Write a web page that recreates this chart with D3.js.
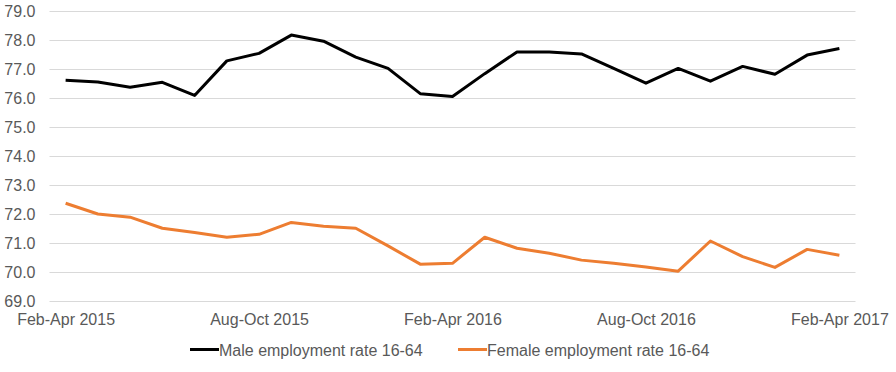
<!DOCTYPE html>
<html><head><meta charset="utf-8">
<script src="https://cdn.jsdelivr.net/npm/d3@7"></script>
<style>body{margin:0;background:#fff}svg{display:block}text{font-family:"Liberation Sans",Arial,sans-serif}</style>
</head><body><svg id="c" width="896" height="372"></svg>
<script>
const categories = ["Feb-Apr 2015","Mar-May 2015","Apr-Jun 2015","May-Jul 2015","Jun-Aug 2015","Jul-Sep 2015","Aug-Oct 2015","Sep-Nov 2015","Oct-Dec 2015","Nov-Jan 2016","Dec-Feb 2016","Jan-Mar 2016","Feb-Apr 2016","Mar-May 2016","Apr-Jun 2016","May-Jul 2016","Jun-Aug 2016","Jul-Sep 2016","Aug-Oct 2016","Sep-Nov 2016","Oct-Dec 2016","Nov-Jan 2017","Dec-Feb 2017","Jan-Mar 2017","Feb-Apr 2017"];
const maleRate = [76.62,76.56,76.38,76.55,76.10,77.29,77.55,78.18,77.97,77.42,77.03,76.16,76.06,76.85,77.60,77.60,77.53,77.03,76.52,77.03,76.59,77.10,76.83,77.49,77.72];
const femaleRate = [72.38,72.01,71.90,71.52,71.37,71.21,71.31,71.72,71.59,71.52,70.91,70.28,70.31,71.21,70.83,70.66,70.42,70.31,70.18,70.04,71.08,70.54,70.17,70.79,70.59];
const yTicks = [69,70,71,72,73,74,75,76,77,78,79];
const xTickLabels = ["Feb-Apr 2015","Aug-Oct 2015","Feb-Apr 2016","Aug-Oct 2016","Feb-Apr 2017"];
const seriesNames = ["Male employment rate 16-64","Female employment rate 16-64"];
const colors = ["#000000","#ED7D31"];

(function(){
const svg = d3.select("#c");
const pL = 49.5, pR = 855.5, pT = 11.3, pB = 301.3;
const x = d3.scalePoint().domain(categories).range([pL, pR]).padding(0.5);
const y = d3.scaleLinear().domain([69,79]).range([pB, pT]);
const fam = "Liberation Sans, Arial, sans-serif";

svg.append("g").selectAll("line").data(yTicks).join("line")
  .attr("x1", pL).attr("x2", pR)
  .attr("y1", d => Math.round(y(d))+0.5).attr("y2", d => Math.round(y(d))+0.5)
  .attr("stroke", "#D9D9D9").attr("stroke-width", 1);

const yAxis = svg.append("g").attr("transform", `translate(${pL},0)`)
  .call(d3.axisLeft(y).tickValues(yTicks).tickFormat(d3.format(".1f")).tickSize(0).tickPadding(14));
yAxis.select(".domain").remove();
yAxis.selectAll("text").attr("font-size", 16).attr("fill", "#595959").attr("font-family", fam);

const xAxis = svg.append("g").attr("transform", `translate(0,${pB})`)
  .call(d3.axisBottom(x).tickValues(xTickLabels).tickSize(0).tickPadding(12));
xAxis.select(".domain").remove();
xAxis.selectAll("text").attr("font-size", 16).attr("fill", "#595959").attr("font-family", fam);

const line = d3.line().x((d,i) => x(categories[i])).y(d => y(d));
[maleRate, femaleRate].forEach((s, k) => {
  svg.append("path").datum(s).attr("d", line).attr("fill", "none")
    .attr("stroke", colors[k]).attr("stroke-width", 3).attr("stroke-linejoin", "round");
});

const legendX = [190, 458];
const lg = svg.append("g");
seriesNames.forEach((n, k) => {
  lg.append("line").attr("x1", legendX[k]).attr("x2", legendX[k]+29).attr("y1", 349.5).attr("y2", 349.5)
    .attr("stroke", colors[k]).attr("stroke-width", 3);
  lg.append("text").attr("x", legendX[k]+29).attr("y", 350).attr("dy", "0.35em")
    .attr("font-size", 16).attr("fill", "#595959").attr("font-family", fam).text(n);
});
})();
</script></body></html>
